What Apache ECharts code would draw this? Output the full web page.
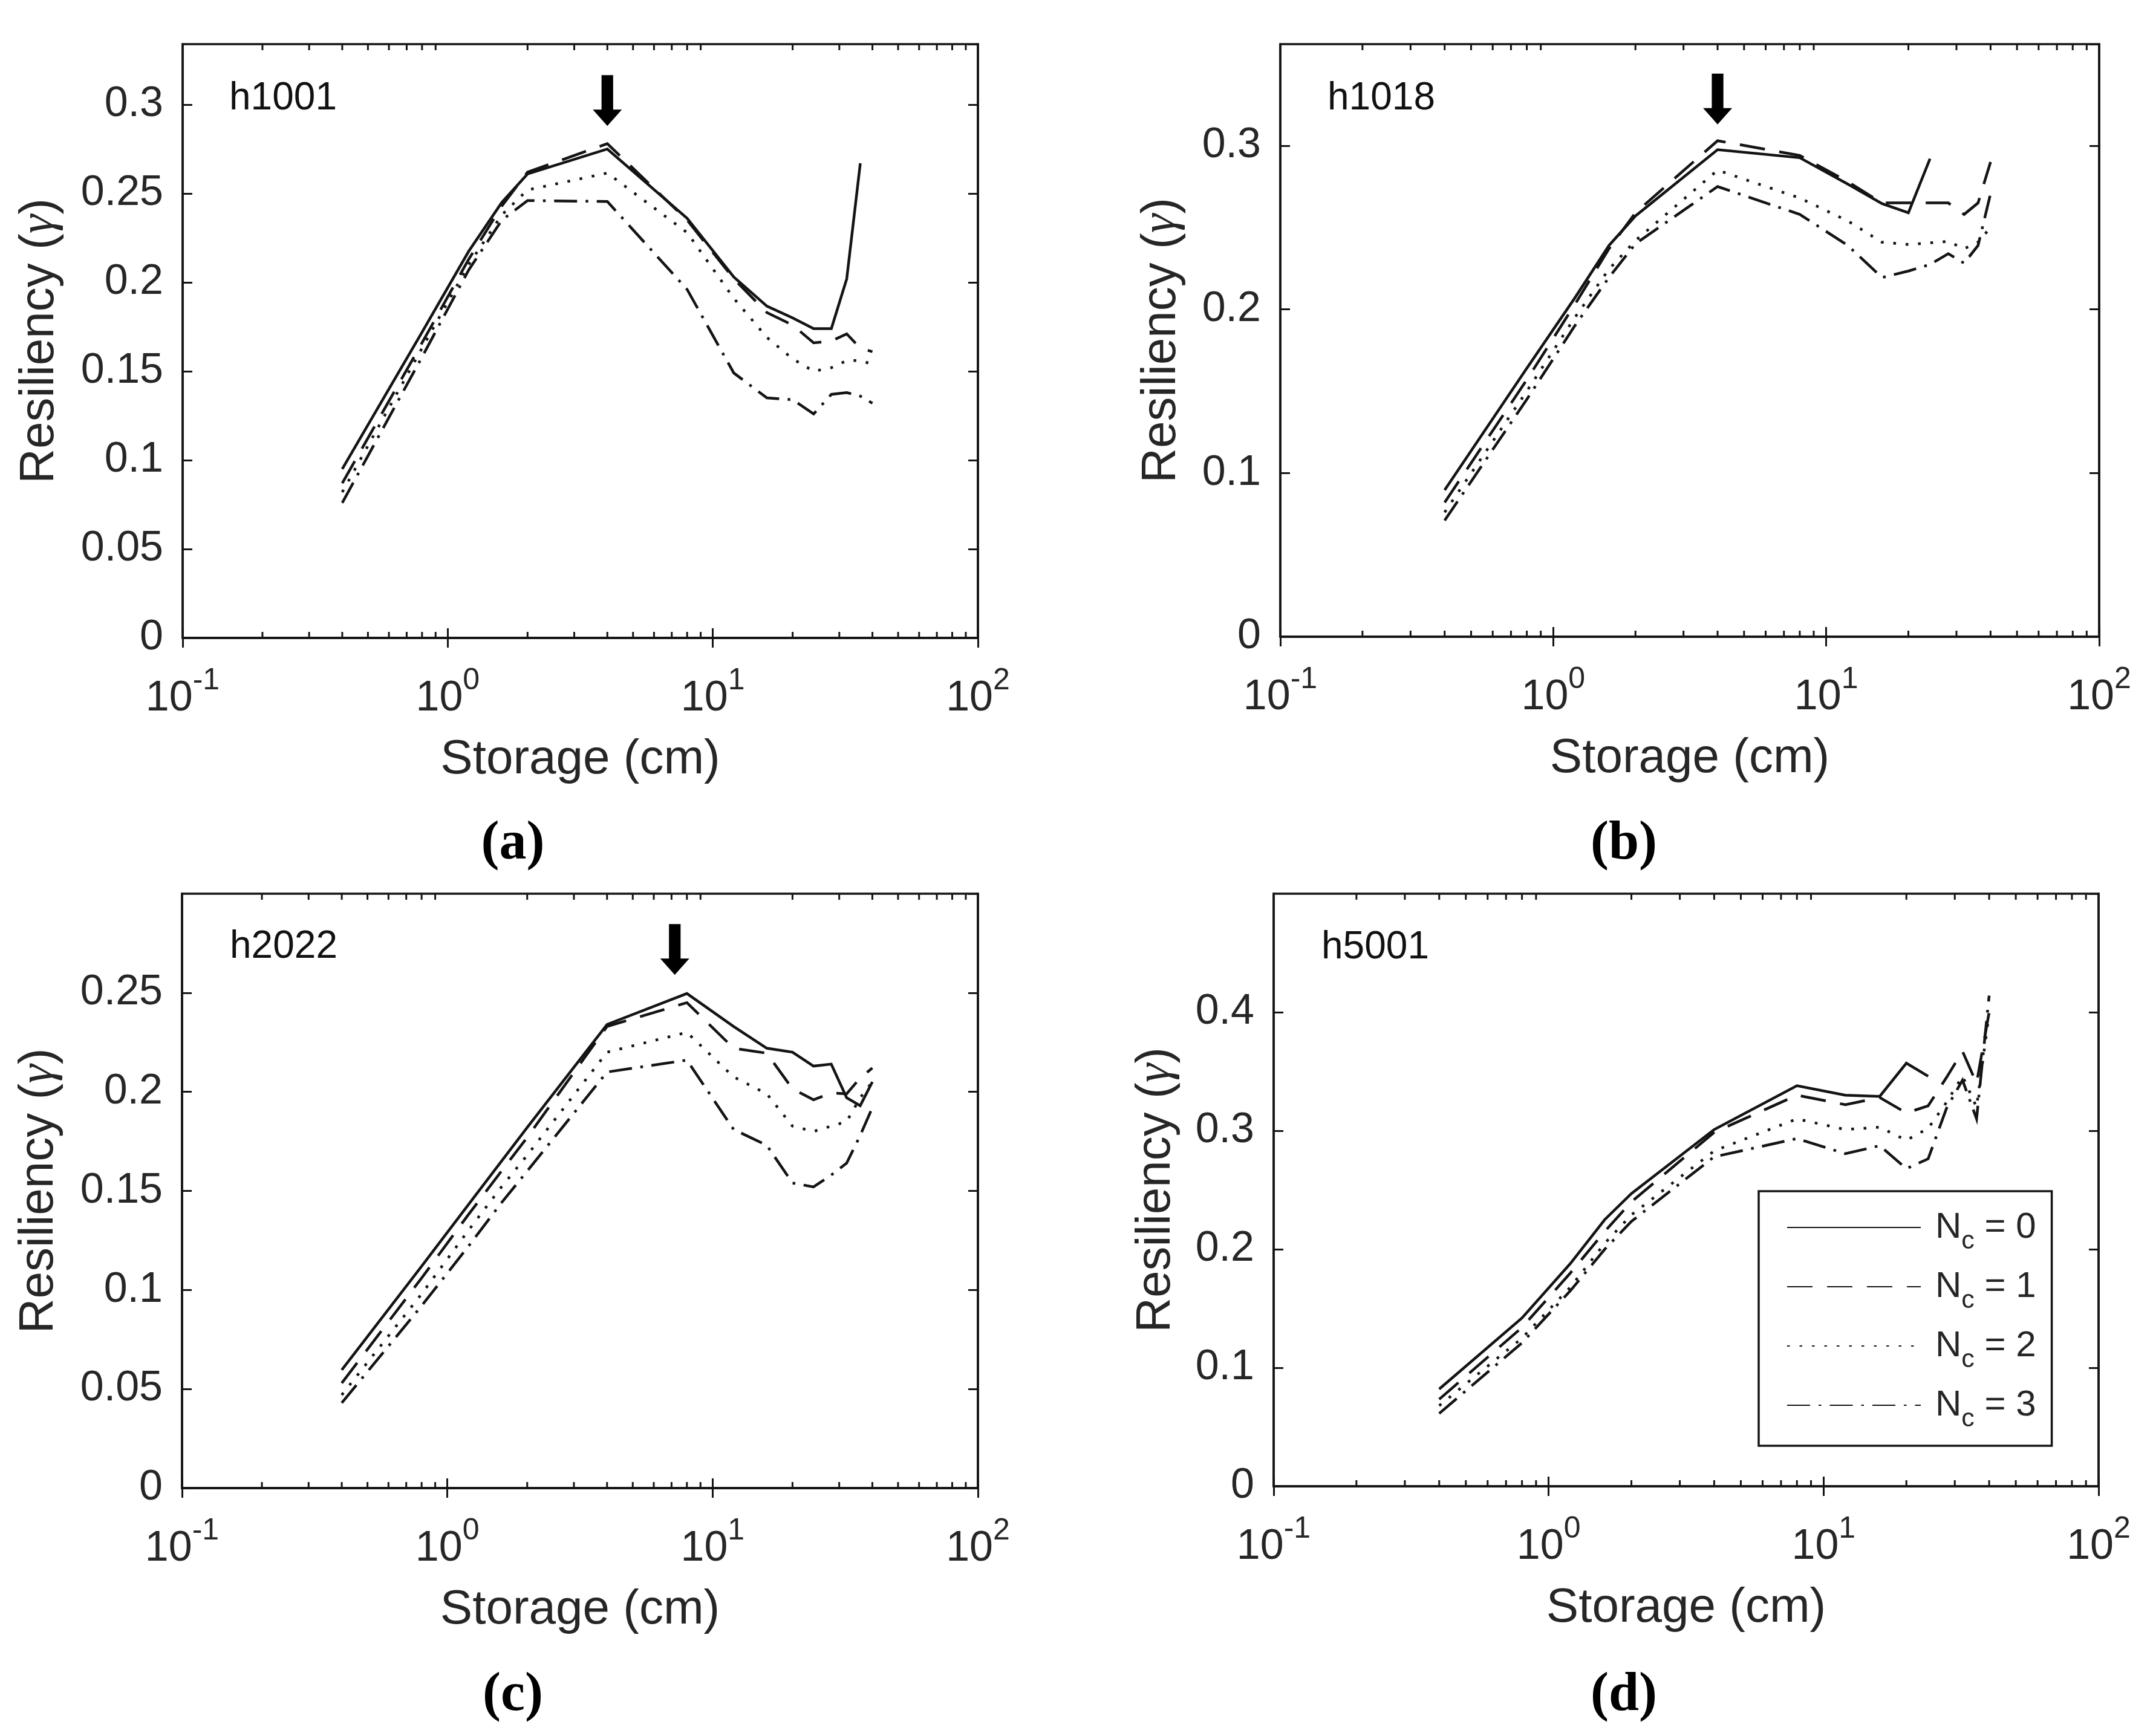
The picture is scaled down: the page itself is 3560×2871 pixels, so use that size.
<!DOCTYPE html>
<html>
<head>
<meta charset="utf-8">
<script src="https://cdn.jsdelivr.net/npm/echarts@6/dist/echarts.min.js"></script>
<style>html,body{margin:0;padding:0;background:#fff}#chart{width:3560px;height:2871px}</style>
</head>
<body>
<div id="chart"></div>
<script>
// ---------------- data ----------------
const storage = [0.4, 0.8, 1.2, 1.6, 2, 4, 8, 12, 16, 20, 24, 28, 32, 36, 40];

// (a) h1001
const a_nc0 = [0.095, 0.172, 0.2175, 0.245, 0.261, 0.275, 0.236, 0.203, 0.1866, 0.180, 0.174, 0.174, 0.202, 0.267, null];
const a_nc1 = [0.087, 0.166, 0.213, 0.243, 0.262, 0.278, 0.235, 0.202, 0.183, 0.176, 0.166, 0.167, 0.171, 0.163, 0.161];
const a_nc2 = [0.082, 0.163, 0.210, 0.238, 0.252, 0.2615, 0.228, 0.191, 0.169, 0.157, 0.150, 0.152, 0.156, 0.156, 0.154];
const a_nc3 = [0.076, 0.158, 0.207, 0.235, 0.246, 0.2455, 0.196, 0.149, 0.135, 0.134, 0.126, 0.137, 0.138, 0.136, 0.132];

// (b) h1018
const b_nc0 = [0.0896, 0.164, 0.207, 0.239, 0.257, 0.2975, 0.2926, 0.2765, 0.2646, 0.259, 0.292, null, null, null, null];
const b_nc1 = [0.082, 0.157, 0.203, 0.237, 0.259, 0.303, 0.294, 0.278, 0.265, 0.265, 0.265, 0.265, 0.258, 0.265, 0.290];
const b_nc2 = [0.076, 0.150, 0.195, 0.2245, 0.242, 0.285, 0.268, 0.254, 0.241, 0.2396, 0.2406, 0.2415, 0.237, 0.241, 0.250];
const b_nc3 = [0.071, 0.145, 0.190, 0.2195, 0.240, 0.275, 0.258, 0.239, 0.2194, 0.2234, 0.2274, 0.234, 0.2282, 0.239, 0.2707];

// (c) h2022
const c_nc0 = [0.0596, 0.112, 0.143, 0.165, 0.182, 0.234, 0.2496, 0.233, 0.222, 0.220, 0.213, 0.214, 0.197, 0.193, 0.205];
const c_nc1 = [0.053, 0.106, 0.138, 0.160, 0.177, 0.233, 0.245, 0.222, 0.2195, 0.2015, 0.196, 0.1994, 0.199, 0.207, 0.212];
const c_nc2 = [0.047, 0.098, 0.130, 0.152, 0.168, 0.220, 0.230, 0.2075, 0.199, 0.1827, 0.180, 0.1827, 0.185, 0.197, 0.205];
const c_nc3 = [0.043, 0.092, 0.122, 0.144, 0.160, 0.210, 0.216, 0.181, 0.173, 0.154, 0.152, 0.158, 0.164, 0.178, 0.192];

// (d) h5001
const d_nc0 = [0.082, 0.142, 0.188, 0.225, 0.247, 0.301, 0.338, 0.330, 0.329, 0.357, 0.346, null, null, null, null];
const d_nc1 = [0.0734, 0.134, 0.180, 0.215, 0.240, 0.2986, 0.330, 0.322, 0.328, 0.315, 0.321, 0.345, 0.367, 0.340, 0.400];
const d_nc2 = [0.068, 0.125, 0.168, 0.205, 0.229, 0.283, 0.310, 0.301, 0.303, 0.292, 0.302, 0.324, 0.346, 0.320, 0.399];
const d_nc3 = [0.0614, 0.121, 0.165, 0.200, 0.2235, 0.278, 0.2934, 0.2806, 0.2874, 0.268, 0.2763, 0.319, 0.3427, 0.310, 0.414];

const panelValues = [[a_nc0, a_nc1, a_nc2, a_nc3], [b_nc0, b_nc1, b_nc2, b_nc3], [c_nc0, c_nc1, c_nc2, c_nc3], [d_nc0, d_nc1, d_nc2, d_nc3]];
const panelNames = ['h1001', 'h1018', 'h2022', 'h5001'];
const panelLetters = ['(a)', '(b)', '(c)', '(d)'];
const seriesNames = ['Nc = 0', 'Nc = 1', 'Nc = 2', 'Nc = 3'];
const xMinorTicks = [0.2, 0.3, 0.4, 0.5, 0.6, 0.7, 0.8, 0.9, 2, 3, 4, 5, 6, 7, 8, 9, 20, 30, 40, 50, 60, 70, 80, 90];
const yMax = [0.334, 0.362, 0.3, 0.5];
const yStep = [0.05, 0.1, 0.05, 0.1];
const arrowX = [4, 4, 7.2, null];
const arrowTipY = [0.288, 0.313, 0.259, null];

// ---------------- layout / style ----------------
const INK = '#141414';
const TXT = '#262626';
const SANS = '"Liberation Sans", Arial, sans-serif';
const SERIF = '"Liberation Serif", "Times New Roman", serif';
const grids = [
  {left: 302, top: 73, width: 1315, height: 982},
  {left: 2117, top: 73, width: 1354, height: 980},
  {left: 301, top: 1478, width: 1316, height: 983},
  {left: 2106, top: 1478, width: 1364, height: 980}
];
const yNameGap = [196, 156, 196, 154];
const lineTypes = ['solid', [42, 24], [4.5, 16], [38, 14, 4.5, 14]];
const nameLabelPos = [[379, 163], [2195, 163], [380, 1566], [2185, 1567]];
const letterPos = [[848, 1397], [2685, 1397], [848, 2805], [2685, 2805]];

const xAxes = [], yAxes = [], series = [], graphics = [];
grids.forEach(function (g, p) {
  const tickStyle = {show: true, inside: true, length: 16, lineStyle: {color: INK, width: 3}};
  xAxes.push({
    type: 'log', logBase: 10, min: 0.1, max: 100, gridIndex: p, position: 'bottom',
    axisLine: {show: true, lineStyle: {color: INK, width: 3.5}},
    axisTick: tickStyle,
    splitLine: {show: false},
    axisLabel: {
      margin: 46, color: TXT,
      formatter: function (v) { return '{b|10}{s|' + Math.round(Math.log10(v)) + '}'; },
      rich: {
        b: {fontSize: 70, fontFamily: SANS, lineHeight: 110, color: TXT},
        s: {fontSize: 50, fontFamily: SANS, lineHeight: 50, verticalAlign: 'top', color: TXT}
      }
    },
    name: 'Storage (cm)', nameLocation: 'middle', nameGap: 162,
    nameTextStyle: {fontSize: 80, fontFamily: SANS, color: TXT}
  });
  xAxes.push({
    type: 'log', logBase: 10, min: 0.1, max: 100, gridIndex: p, position: 'top',
    axisLine: {show: true, lineStyle: {color: INK, width: 3.5}},
    axisTick: tickStyle, axisLabel: {show: false}, splitLine: {show: false}
  });
  yAxes.push({
    type: 'value', min: 0, max: yMax[p], interval: yStep[p], gridIndex: p, position: 'left',
    axisLine: {show: true, lineStyle: {color: INK, width: 3.5}},
    axisTick: tickStyle, splitLine: {show: false},
    axisLabel: {margin: 32, fontSize: 70, fontFamily: SANS, color: TXT, showMaxLabel: false},
    name: 'Resiliency ({g|γ})', nameLocation: 'middle', nameGap: yNameGap[p],
    nameTextStyle: {
      fontSize: 80, fontFamily: SANS, color: TXT,
      rich: {g: {fontSize: 80, fontFamily: SERIF, fontStyle: 'italic', color: TXT}}
    }
  });
  yAxes.push({
    type: 'value', min: 0, max: yMax[p], interval: yStep[p], gridIndex: p, position: 'right',
    axisLine: {show: true, lineStyle: {color: INK, width: 3.5}},
    axisTick: tickStyle, axisLabel: {show: false}, splitLine: {show: false}
  });

  panelValues[p].forEach(function (vals, k) {
    const pts = [];
    storage.forEach(function (s, i) { if (vals[i] !== null) pts.push([s, vals[i]]); });
    series.push({
      type: 'line', name: seriesNames[k], xAxisIndex: 2 * p, yAxisIndex: 2 * p,
      data: pts, symbol: 'none', showSymbol: false, silent: true,
      lineStyle: {color: INK, width: 4.5, type: lineTypes[k], cap: 'butt', join: 'miter'},
      itemStyle: {color: INK}, z: 3
    });
  });

  series.push({
    type: 'custom', xAxisIndex: 2 * p, yAxisIndex: 2 * p, silent: true, clip: false,
    data: xMinorTicks.map(function (v) { return [v, 0]; }),
    renderItem: function (params, api) {
      const cs = params.coordSys;
      const x = api.coord([api.value(0), api.value(1)])[0];
      return {type: 'group', children: [
        {type: 'line', shape: {x1: x, y1: cs.y + cs.height, x2: x, y2: cs.y + cs.height - 10}, style: {stroke: INK, lineWidth: 3}},
        {type: 'line', shape: {x1: x, y1: cs.y, x2: x, y2: cs.y + 10}, style: {stroke: INK, lineWidth: 3}}
      ]};
    }, z: 4
  });

  if (arrowX[p] !== null) {
    series.push({
      type: 'scatter', xAxisIndex: 2 * p, yAxisIndex: 2 * p, silent: true,
      data: [[arrowX[p], arrowTipY[p]]],
      symbol: 'path://M15,0 L35,0 L35,57 L50,57 L25,84 L0,57 L15,57 Z',
      symbolSize: [48, 84], symbolOffset: [0, -42],
      itemStyle: {color: '#000', opacity: 1}, z: 5
    });
  }

  graphics.push({type: 'text', x: nameLabelPos[p][0], y: nameLabelPos[p][1],
    style: {text: panelNames[p], fontSize: 64, fontFamily: SANS, fill: '#111', align: 'left', verticalAlign: 'middle'}});
  graphics.push({type: 'text', x: letterPos[p][0], y: letterPos[p][1],
    style: {text: panelLetters[p], fontSize: 90, fontWeight: 'bold', fontFamily: SERIF, fill: '#000', align: 'center', verticalAlign: 'middle'}});
});

const chart = echarts.init(document.getElementById('chart'), null, {renderer: 'canvas'});
chart.setOption({
  backgroundColor: '#fff',
  animation: false,
  grid: grids.map(function (g) {
    return Object.assign({show: true, borderColor: INK, borderWidth: 3.5, backgroundColor: 'transparent', containLabel: false}, g);
  }),
  xAxis: xAxes,
  yAxis: yAxes,
  legend: {
    data: seriesNames,
    orient: 'vertical', left: 2908, top: 1970,
    padding: [30, 26, 22, 46], itemGap: 23,
    itemWidth: 221, itemHeight: 2,
    backgroundColor: '#fff', borderColor: INK, borderWidth: 3.5, borderRadius: 0,
    selectedMode: false,
    itemStyle: {color: 'rgba(0,0,0,0)', borderWidth: 0, opacity: 0},
    formatter: function (name) { return '{n|N}{s|c}{n| = ' + name.split('= ')[1] + '}'; },
    textStyle: {
      padding: [0, 0, 0, 19],
      rich: {
        n: {fontSize: 60, fontFamily: SANS, lineHeight: 90, color: TXT},
        s: {fontSize: 43, fontFamily: SANS, lineHeight: 30, verticalAlign: 'bottom', color: TXT}
      }
    }
  },
  graphic: graphics,
  series: series
});
</script>
</body>
</html>
